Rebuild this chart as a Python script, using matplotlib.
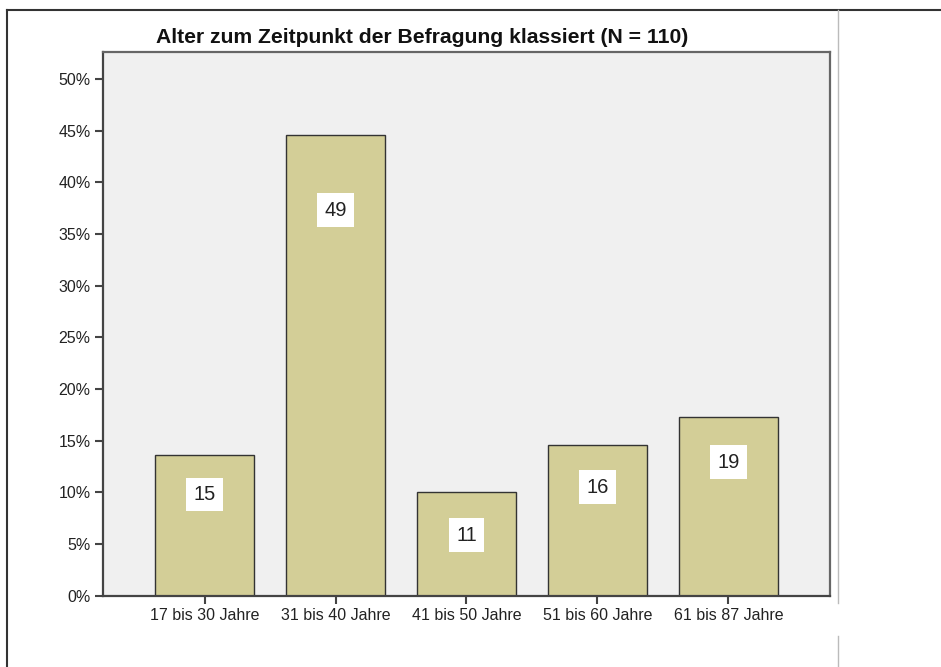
import numpy as np
from matplotlib import pyplot as plt
from matplotlib.lines import Line2D
from matplotlib.ticker import FuncFormatter

plt.rcParams['font.family'] = ['Liberation Sans', 'DejaVu Sans']

categories = ["17 bis 30 Jahre", "31 bis 40 Jahre", "41 bis 50 Jahre", "51 bis 60 Jahre", "61 bis 87 Jahre"]
counts = [15, 49, 11, 16, 19]
n_total = 110

percent = np.array(counts) / n_total * 100
# how far below the bar top the count label sits (pixels)
label_drop = [40, 75, 43, 42, 45]

fig = plt.figure(figsize=(9.41, 6.67), dpi=100)
ax = fig.add_axes([103 / 941, 1 - 595.5 / 667, 727 / 941, 543.5 / 667])

x = np.arange(len(categories))
ax.bar(x, percent, width=0.756, color="#d3ce97", edgecolor="#333333", linewidth=1.0, zorder=2)

for xi, p, c, d in zip(x, percent, counts, label_drop):
    ax.annotate(str(c), (xi, p), xytext=(0, -d * 0.72), textcoords="offset points",
                ha="center", va="center", fontsize=14.5, color="#222222", zorder=3,
                bbox=dict(boxstyle="square,pad=0.36", facecolor="white", edgecolor="none"))

ax.set_xlim(-0.775, 4.775)
ax.set_ylim(0, 52.6)
ax.set_facecolor("#f0f0f0")
ax.set_xticks(x)
ax.set_xticklabels(categories)
ax.set_yticks(np.arange(0, 51, 5))
ax.yaxis.set_major_formatter(FuncFormatter(lambda v, _: f"{v:.0f}%"))
ax.tick_params(length=6, width=1.5, color="#444444", labelsize=11.5, pad=3, labelcolor="#222222")
for s in ax.spines.values():
    s.set_color("#666666")
    s.set_linewidth(1.6)
ax.spines['left'].set_color("#444444")
ax.spines['bottom'].set_color("#444444")

fig.text(422.5 / 941, 1 - 43 / 667, f"Alter zum Zeitpunkt der Befragung klassiert (N = {n_total})",
         ha="center", va="baseline", fontsize=15.2, fontweight="bold", color="#111111")

# outer frame of the output viewer
fig.add_artist(Line2D([7 / 941, 1], [1 - 10 / 667] * 2, color="#333333", linewidth=1.5))
fig.add_artist(Line2D([7 / 941] * 2, [0, 1 - 10 / 667], color="#333333", linewidth=1.5))
fig.add_artist(Line2D([838 / 941] * 2, [1 - 603 / 667, 1 - 10 / 667], color="#bbbbbb", linewidth=1.0))
fig.add_artist(Line2D([838 / 941] * 2, [0, 1 - 636 / 667], color="#bbbbbb", linewidth=1.0))

fig.savefig("out.png", dpi=100)
